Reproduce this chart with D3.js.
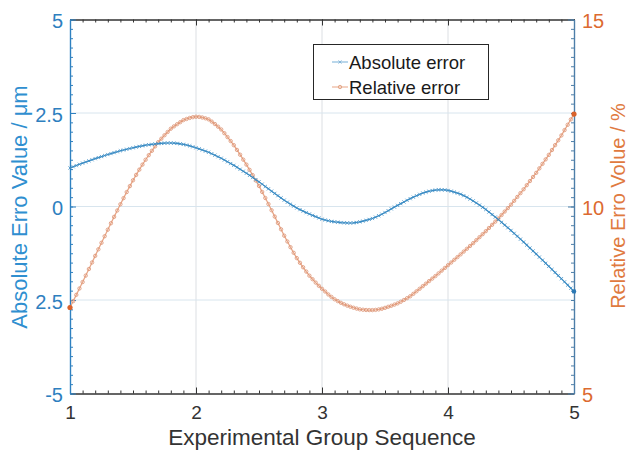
<!DOCTYPE html>
<html>
<head>
<meta charset="utf-8">
<script src="https://cdn.jsdelivr.net/npm/d3@7"></script>
<style>
  html, body { margin: 0; padding: 0; background: #ffffff; }
  svg { display: block; font-family: "Liberation Sans", Arial, Helvetica, sans-serif; }
</style>
</head>
<body>
<svg id="chart" width="630" height="452"></svg>
<script>
// Absolute error (µm), sampled every 0.025 along the group sequence 1 → 5
const absoluteError = [
  1.030, 1.063, 1.095, 1.128, 1.160, 1.190, 1.220, 1.250, 1.280, 1.308,
  1.335, 1.363, 1.390, 1.415, 1.440, 1.465, 1.490, 1.510, 1.530, 1.550,
  1.570, 1.588, 1.606, 1.623, 1.640, 1.651, 1.662, 1.671, 1.680, 1.688,
  1.694, 1.698, 1.698, 1.694, 1.687, 1.676, 1.662, 1.644, 1.622, 1.597,
  1.570, 1.542, 1.512, 1.481, 1.450, 1.412, 1.372, 1.331, 1.290, 1.243,
  1.196, 1.148, 1.100, 1.048, 0.996, 0.943, 0.890, 0.833, 0.775, 0.718,
  0.660, 0.598, 0.535, 0.473, 0.410, 0.350, 0.290, 0.230, 0.170, 0.115,
  0.062, 0.010, -0.040, -0.083, -0.124, -0.163, -0.200, -0.237, -0.272, -0.306,
  -0.340, -0.361, -0.381, -0.398, -0.410, -0.420, -0.429, -0.435, -0.440, -0.441,
  -0.437, -0.427, -0.410, -0.391, -0.369, -0.346, -0.320, -0.285, -0.247, -0.205,
  -0.160, -0.112, -0.064, -0.016, 0.030, 0.077, 0.122, 0.166, 0.210, 0.250,
  0.289, 0.325, 0.360, 0.385, 0.408, 0.426, 0.440, 0.446, 0.447, 0.442,
  0.430, 0.410, 0.385, 0.358, 0.330, 0.290, 0.245, 0.198, 0.150, 0.095,
  0.038, -0.021, -0.080, -0.147, -0.215, -0.283, -0.350, -0.423, -0.496, -0.568,
  -0.640, -0.718, -0.795, -0.873, -0.950, -1.030, -1.110, -1.190, -1.270, -1.353,
  -1.435, -1.518, -1.600, -1.683, -1.765, -1.848, -1.930, -2.015, -2.100, -2.185,
  -2.270
];

// Relative error (%), same sampling
const relativeError = [
  7.300, 7.468, 7.638, 7.808, 7.980, 8.153, 8.328, 8.503, 8.680, 8.855,
  9.030, 9.205, 9.380, 9.552, 9.723, 9.893, 10.060, 10.224, 10.386, 10.545,
  10.700, 10.845, 10.985, 11.120, 11.250, 11.372, 11.490, 11.607, 11.720, 11.813,
  11.905, 11.993, 12.080, 12.142, 12.200, 12.255, 12.310, 12.340, 12.368, 12.388,
  12.400, 12.396, 12.380, 12.358, 12.330, 12.270, 12.205, 12.135, 12.060, 11.960,
  11.857, 11.750, 11.640, 11.513, 11.385, 11.253, 11.120, 10.980, 10.838, 10.695,
  10.550, 10.390, 10.228, 10.065, 9.900, 9.730, 9.560, 9.390, 9.220, 9.065,
  8.912, 8.762, 8.620, 8.495, 8.375, 8.260, 8.150, 8.056, 7.965, 7.880,
  7.800, 7.727, 7.648, 7.582, 7.520, 7.470, 7.425, 7.385, 7.350, 7.320,
  7.293, 7.270, 7.250, 7.240, 7.233, 7.230, 7.230, 7.236, 7.248, 7.266,
  7.290, 7.318, 7.345, 7.377, 7.410, 7.453, 7.500, 7.548, 7.600, 7.665,
  7.733, 7.800, 7.870, 7.937, 8.005, 8.072, 8.140, 8.212, 8.285, 8.357,
  8.430, 8.502, 8.575, 8.647, 8.720, 8.795, 8.870, 8.945, 9.020, 9.100,
  9.180, 9.260, 9.340, 9.425, 9.510, 9.595, 9.680, 9.772, 9.865, 9.957,
  10.050, 10.152, 10.255, 10.357, 10.460, 10.570, 10.680, 10.790, 10.900, 11.020,
  11.140, 11.260, 11.380, 11.510, 11.640, 11.770, 11.900, 12.043, 12.185, 12.328,
  12.470
];

const sampleStep = 0.025;
const sequence = absoluteError.map((_, i) => 1 + i * sampleStep);

const xTicks = [1, 2, 3, 4, 5];
const xTickLabels = ["1", "2", "3", "4", "5"];
const leftTicks = [-5, -2.5, 0, 2.5, 5];
const leftTickLabels = ["-5", "2.5", "0", "2.5", "5"];
const rightTicks = [5, 10, 15];
const rightTickLabels = ["5", "10", "15"];
const seriesNames = ["Absolute error", "Relative error"];

const BLUE = "#3a8cc4";
const BLUE_DARK = "#2a78b4";
const ORANGE = "#e8a788";
const ORANGE_MARK = "#dc9272";
const ORANGE_DARK = "#d9622b";

const svg = d3.select("#chart");
const plot = { left: 70, right: 574, top: 19.5, bottom: 393.5 };

const x = d3.scaleLinear().domain([1, 5]).range([plot.left, plot.right]);
const yL = d3.scaleLinear().domain([-5, 5]).range([plot.bottom, plot.top]);
const yR = d3.scaleLinear().domain([5, 15]).range([plot.bottom, plot.top]);

// grid
const grid = svg.append("g");
grid.selectAll("line.gx").data(xTicks.slice(1, -1)).join("line")
  .attr("x1", d => x(d)).attr("x2", d => x(d))
  .attr("y1", plot.top).attr("y2", plot.bottom)
  .attr("stroke", "#dcdfe3").attr("stroke-width", 1);
grid.selectAll("line.gy").data(leftTicks.slice(1, -1)).join("line")
  .attr("x1", plot.left).attr("x2", plot.right)
  .attr("y1", d => yL(d)).attr("y2", d => yL(d))
  .attr("stroke", "#d8e5ee").attr("stroke-width", 1);

// minor tick helpers
const range = (a, b, s) => d3.range(Math.round((b - a) / s) + 1).map(i => a + i * s);
const xMinor = range(1, 5, 0.1);
const yLMinor = range(-5, 5, 0.25);
const yRMinor = range(5, 15, 0.25);

function styleAxis(g, color, textColor, fontSize) {
  g.select(".domain").attr("stroke", color).attr("stroke-width", 1.2);
  g.selectAll(".tick line").attr("stroke", color);
  g.selectAll(".tick text").attr("fill", textColor).attr("font-size", fontSize)
    .attr("font-family", "\"Liberation Sans\", Arial, sans-serif");
}

// bottom axis
const gBottomMinor = svg.append("g").attr("transform", `translate(0,${plot.bottom})`)
  .call(d3.axisBottom(x).tickValues(xMinor).tickSizeInner(-3).tickSizeOuter(0).tickFormat(""));
styleAxis(gBottomMinor, "#333333", "#333333", 20);
const gBottom = svg.append("g").attr("transform", `translate(0,${plot.bottom})`)
  .call(d3.axisBottom(x).tickValues(xTicks).tickSizeInner(-6).tickSizeOuter(0).tickPadding(12)
    .tickFormat((d, i) => xTickLabels[i]));
styleAxis(gBottom, "#333333", "#333333", 19);

// top axis (ticks only)
const gTopMinor = svg.append("g").attr("transform", `translate(0,${plot.top})`)
  .call(d3.axisTop(x).tickValues(xMinor).tickSizeInner(-3).tickSizeOuter(0).tickFormat(""));
styleAxis(gTopMinor, "#333333", "#333333", 20);
const gTop = svg.append("g").attr("transform", `translate(0,${plot.top})`)
  .call(d3.axisTop(x).tickValues(xTicks).tickSizeInner(-6).tickSizeOuter(0).tickFormat(""));
styleAxis(gTop, "#333333", "#333333", 20);

// left axis
const gLeftMinor = svg.append("g").attr("transform", `translate(${plot.left},0)`)
  .call(d3.axisLeft(yL).tickValues(yLMinor).tickSizeInner(-3).tickSizeOuter(0).tickFormat(""));
styleAxis(gLeftMinor, "#2f80c0", "#2f80c0", 20);
const gLeft = svg.append("g").attr("transform", `translate(${plot.left},0)`)
  .call(d3.axisLeft(yL).tickValues(leftTicks).tickSizeInner(-6).tickSizeOuter(0).tickPadding(7)
    .tickFormat((d, i) => leftTickLabels[i]));
styleAxis(gLeft, "#2f80c0", "#2e7fbf", 20);
gLeft.selectAll(".tick text").attr("dy", "0.42em");

// right axis
const gRightMinor = svg.append("g").attr("transform", `translate(${plot.right},0)`)
  .call(d3.axisRight(yR).tickValues(yRMinor).tickSizeInner(-3).tickSizeOuter(0).tickFormat(""));
styleAxis(gRightMinor, "#4d7ea8", "#4d7ea8", 20);
const gRight = svg.append("g").attr("transform", `translate(${plot.right},0)`)
  .call(d3.axisRight(yR).tickValues(rightTicks).tickSizeInner(-6).tickSizeOuter(0).tickPadding(8)
    .tickFormat((d, i) => rightTickLabels[i]));
styleAxis(gRight, "#4d7ea8", "#dc6a30", 20);
gRight.selectAll(".tick text").attr("dy", "0.42em");

// series
const absData = sequence.map((s, i) => [s, absoluteError[i]]);
const relData = sequence.map((s, i) => [s, relativeError[i]]);

const lineAbs = d3.line().x(d => x(d[0])).y(d => yL(d[1]));
const lineRel = d3.line().x(d => x(d[0])).y(d => yR(d[1]));

svg.append("path").datum(relData).attr("d", lineRel)
  .attr("fill", "none").attr("stroke", ORANGE).attr("stroke-width", 1.3);
svg.append("g").selectAll("circle").data(relData).join("circle")
  .attr("cx", d => x(d[0])).attr("cy", d => yR(d[1])).attr("r", 1.7)
  .attr("fill", "none").attr("stroke", ORANGE_MARK).attr("stroke-width", 0.8);

svg.append("path").datum(absData).attr("d", lineAbs)
  .attr("fill", "none").attr("stroke", BLUE).attr("stroke-width", 1.2);
const xMark = 1.6;
svg.append("g").selectAll("path").data(absData).join("path")
  .attr("d", d => {
    const cx = x(d[0]), cy = yL(d[1]);
    return `M${cx - xMark},${cy - xMark}L${cx + xMark},${cy + xMark}M${cx - xMark},${cy + xMark}L${cx + xMark},${cy - xMark}`;
  })
  .attr("stroke", BLUE).attr("stroke-width", 0.8).attr("fill", "none");

// endpoint emphasis
svg.append("g").selectAll("circle").data([relData[0], relData[relData.length - 1]]).join("circle")
  .attr("cx", d => x(d[0])).attr("cy", d => yR(d[1])).attr("r", 2.6).attr("fill", ORANGE_DARK);
svg.append("g").selectAll("circle").data([absData[absData.length - 1]]).join("circle")
  .attr("cx", d => x(d[0])).attr("cy", d => yL(d[1])).attr("r", 2.2).attr("fill", BLUE_DARK);

// axis titles
svg.append("text").attr("transform", "translate(27,207) rotate(-90)")
  .attr("text-anchor", "middle").attr("font-size", 22).attr("fill", "#2f8fd0")
  .text("Absolute Erro Value / μm");
svg.append("text").attr("transform", "translate(625,206) rotate(-90)")
  .attr("text-anchor", "middle").attr("font-size", 20).attr("fill", "#e07a3f")
  .text("Relative Erro Volue / %");
svg.append("text").attr("x", 322).attr("y", 445)
  .attr("text-anchor", "middle").attr("font-size", 22.5).attr("fill", "#333333")
  .text("Experimental Group Sequence");

// legend
const legend = svg.append("g");
legend.append("rect").attr("x", 313.5).attr("y", 44.5).attr("width", 175).attr("height", 55)
  .attr("fill", "#ffffff").attr("stroke", "#262626").attr("stroke-width", 1);
const legendRows = [
  { name: seriesNames[0], color: "#9cc6e2", mark: "x", y: 62 },
  { name: seriesNames[1], color: "#efbfa8", mark: "o", y: 87 }
];
legendRows.forEach(r => {
  legend.append("line").attr("x1", 332).attr("x2", 348).attr("y1", r.y).attr("y2", r.y)
    .attr("stroke", r.color).attr("stroke-width", 1.4);
  if (r.mark === "x") {
    legend.append("path").attr("d", `M338.5,${r.y - 1.6}L341.5,${r.y + 1.6}M338.5,${r.y + 1.6}L341.5,${r.y - 1.6}`)
      .attr("stroke", "#7fb2d6").attr("stroke-width", 0.9);
  } else {
    legend.append("circle").attr("cx", 340).attr("cy", r.y).attr("r", 1.7)
      .attr("fill", "none").attr("stroke", "#e0a080").attr("stroke-width", 0.9);
  }
  legend.append("text").attr("x", 349).attr("y", r.y + 6.5)
    .attr("font-size", 18.5).attr("fill", "#1a1a1a").text(r.name);
});
</script>
</body>
</html>
